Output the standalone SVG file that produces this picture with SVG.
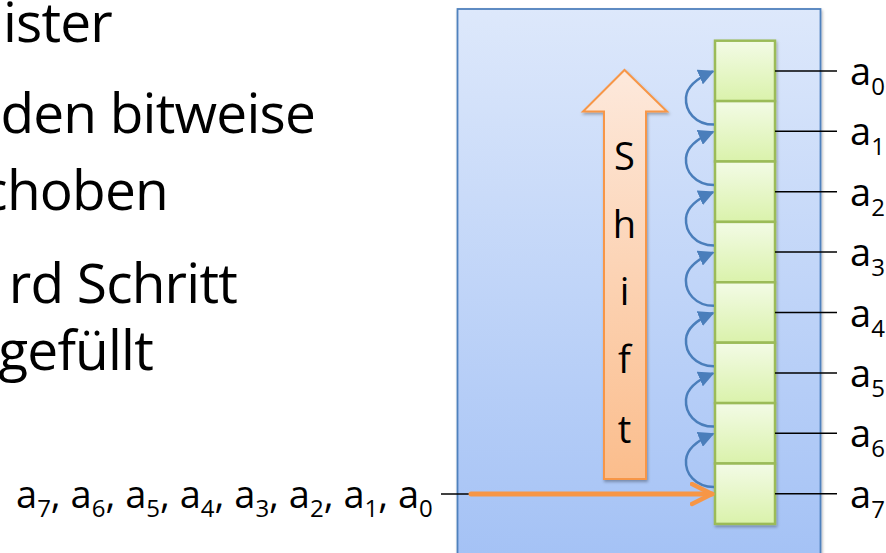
<svg xmlns="http://www.w3.org/2000/svg" width="886" height="553" viewBox="0 0 886 553">
<defs>
  <linearGradient id="gBox" x1="0" y1="0" x2="0" y2="1">
    <stop offset="0" stop-color="#dde8fb"/>
    <stop offset="1" stop-color="#a3c1f5"/>
  </linearGradient>
  <linearGradient id="gCell" x1="0" y1="0" x2="0" y2="1">
    <stop offset="0" stop-color="#f3fbe6"/>
    <stop offset="1" stop-color="#daf2ab"/>
  </linearGradient>
  <linearGradient id="gShift" x1="0" y1="0" x2="0" y2="1">
    <stop offset="0" stop-color="#fde9dc"/>
    <stop offset="1" stop-color="#fbbd8c"/>
  </linearGradient>
  <filter id="sh" x="-20%" y="-20%" width="140%" height="140%">
    <feDropShadow dx="1" dy="2" stdDeviation="1.5" flood-color="#000" flood-opacity="0.3"/>
  </filter>
  <marker id="mBlue" viewBox="0 0 10 10" refX="9" refY="5" markerWidth="6.4" markerHeight="6.4" markerUnits="strokeWidth" orient="auto">
    <path d="M0,0 L10,5 L0,10 Z" fill="#4a7ebb"/>
  </marker>
  <marker id="mOrange" viewBox="0 0 10 10" refX="9" refY="5" markerWidth="5" markerHeight="5" markerUnits="strokeWidth" orient="auto">
    <path d="M1,1 L9,5 L1,9" fill="none" stroke="#f79646" stroke-width="1.8" stroke-linecap="round" stroke-linejoin="round"/>
  </marker>
  <style>
    .t { font-family: "Open Sans", "Noto Sans", sans-serif; fill: #000; }
    .big { font-size: 55px; letter-spacing: -0.8px; }
    .lbl { font-size: 38px; }
    .cell { fill: url(#gCell); stroke: #9bbb59; stroke-width: 2.5; }
    .tick { stroke: #000; stroke-width: 1.5; }
    .loop { fill: none; stroke: #4a7ebb; stroke-width: 2.5; marker-end: url(#mBlue); }
  </style>
</defs>

<g id="bullets">
  <text class="t big" x="112" y="42" text-anchor="end">ister</text>
  <text class="t big" x="315" y="133" text-anchor="end">den bitweise</text>
  <text class="t big" x="168" y="210" text-anchor="end">choben</text>
  <text class="t big" x="237" y="303" text-anchor="end">rd Schritt</text>
  <text class="t big" x="153" y="370" text-anchor="end">gefüllt</text>
</g>

<g id="container">
  <rect x="457.5" y="9" width="363" height="560" fill="url(#gBox)" stroke="#4f81bd" stroke-width="1.8" filter="url(#sh)"/>
</g>

<g id="shift">
  <path d="M604,479 L604,111.5 L583,111.5 L624.5,70 L667,111.5 L646,111.5 L646,479 Z" fill="url(#gShift)" stroke="#f79646" stroke-width="2" filter="url(#sh)"/>
  <g class="t" font-size="38" text-anchor="middle">
    <text x="624.5" y="170">S</text>
    <text x="624.5" y="238">h</text>
    <text x="624.5" y="305">i</text>
    <text x="624.5" y="373">f</text>
    <text x="624.5" y="443">t</text>
  </g>
</g>

<g id="register" filter="url(#sh)">
  <rect id="cell0" class="cell" x="715" y="40.7" width="60" height="60.4"/>
  <rect id="cell1" class="cell" x="715" y="101.1" width="60" height="60.4"/>
  <rect id="cell2" class="cell" x="715" y="161.5" width="60" height="60.4"/>
  <rect id="cell3" class="cell" x="715" y="221.9" width="60" height="60.4"/>
  <rect id="cell4" class="cell" x="715" y="282.3" width="60" height="60.4"/>
  <rect id="cell5" class="cell" x="715" y="342.7" width="60" height="60.4"/>
  <rect id="cell6" class="cell" x="715" y="403.1" width="60" height="60.4"/>
  <rect id="cell7" class="cell" x="715" y="463.5" width="60" height="60.4"/>
</g>

<g id="connectors">
  <g id="ticks">
    <line class="tick" x1="775" y1="70.9" x2="837" y2="70.9"/>
    <line class="tick" x1="775" y1="131.3" x2="837" y2="131.3"/>
    <line class="tick" x1="775" y1="191.7" x2="837" y2="191.7"/>
    <line class="tick" x1="775" y1="252.1" x2="837" y2="252.1"/>
    <line class="tick" x1="775" y1="312.5" x2="837" y2="312.5"/>
    <line class="tick" x1="775" y1="372.9" x2="837" y2="372.9"/>
    <line class="tick" x1="775" y1="433.3" x2="837" y2="433.3"/>
    <line class="tick" x1="775" y1="493.7" x2="837" y2="493.7"/>
  </g>
  <g id="loops">
    <path class="loop" d="M714,124.6 C695,124.6 685,110.9 686,97.4 C687,84.9 700,76.9 713,71.4"/>
    <path class="loop" d="M714,185 C695,185 685,171.3 686,157.8 C687,145.3 700,137.3 713,131.8"/>
    <path class="loop" d="M714,245.4 C695,245.4 685,231.7 686,218.2 C687,205.7 700,197.7 713,192.2"/>
    <path class="loop" d="M714,305.8 C695,305.8 685,292.1 686,278.6 C687,266.1 700,258.1 713,252.6"/>
    <path class="loop" d="M714,366.2 C695,366.2 685,352.5 686,339 C687,326.5 700,318.5 713,313"/>
    <path class="loop" d="M714,426.6 C695,426.6 685,412.9 686,399.4 C687,386.9 700,378.9 713,373.4"/>
    <path class="loop" d="M714,487 C695,487 685,473.3 686,459.8 C687,447.3 700,439.3 713,433.8"/>
  </g>
  <line x1="441" y1="494" x2="472" y2="494" stroke="#000" stroke-width="1.5"/>
  <line x1="471" y1="494" x2="712" y2="494" stroke="#f79646" stroke-width="5" stroke-linecap="round" marker-end="url(#mOrange)"/>
</g>

<g id="labels" class="t lbl">
  <text x="850" y="85">a<tspan font-size="24" dy="10">0</tspan></text>
  <text x="850" y="145.4">a<tspan font-size="24" dy="10">1</tspan></text>
  <text x="850" y="205.8">a<tspan font-size="24" dy="10">2</tspan></text>
  <text x="850" y="266.2">a<tspan font-size="24" dy="10">3</tspan></text>
  <text x="850" y="326.6">a<tspan font-size="24" dy="10">4</tspan></text>
  <text x="850" y="387">a<tspan font-size="24" dy="10">5</tspan></text>
  <text x="850" y="447.4">a<tspan font-size="24" dy="10">6</tspan></text>
  <text x="850" y="507.8">a<tspan font-size="24" dy="10">7</tspan></text>
</g>

<g id="sequence" class="t">
  <text x="16" y="507.5" font-size="38">a<tspan font-size="24" dy="9">7</tspan><tspan dy="-9">, a</tspan><tspan font-size="24" dy="9">6</tspan><tspan dy="-9">, a</tspan><tspan font-size="24" dy="9">5</tspan><tspan dy="-9">, a</tspan><tspan font-size="24" dy="9">4</tspan><tspan dy="-9">, a</tspan><tspan font-size="24" dy="9">3</tspan><tspan dy="-9">, a</tspan><tspan font-size="24" dy="9">2</tspan><tspan dy="-9">, a</tspan><tspan font-size="24" dy="9">1</tspan><tspan dy="-9">, a</tspan><tspan font-size="24" dy="9">0</tspan></text>
</g>
</svg>
